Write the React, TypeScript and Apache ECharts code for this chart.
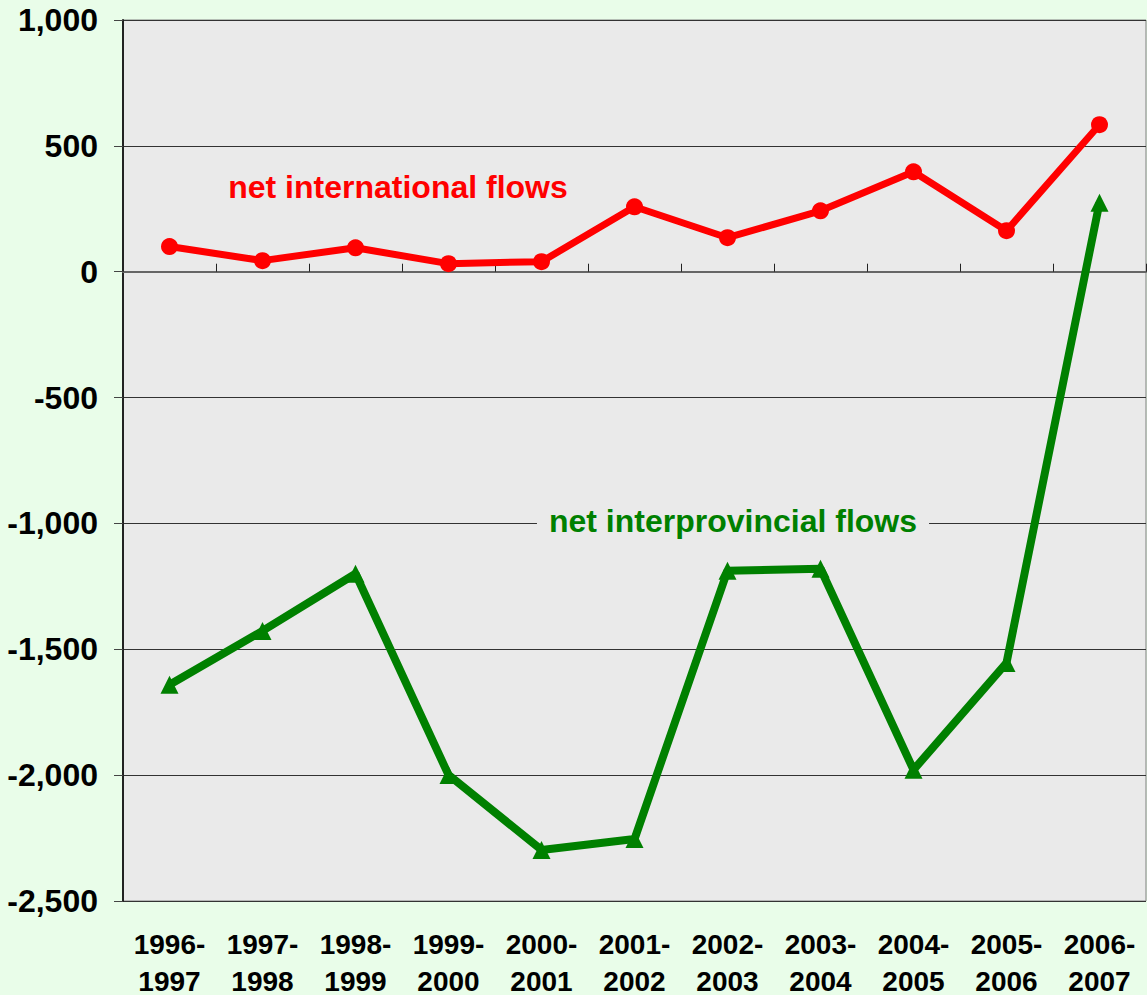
import React, { useEffect, useRef } from "react";
import * as echarts from "echarts";

const categories = [
  "1996-\n1997", "1997-\n1998", "1998-\n1999", "1999-\n2000", "2000-\n2001", "2001-\n2002",
  "2002-\n2003", "2003-\n2004", "2004-\n2005", "2005-\n2006", "2006-\n2007",
];
const internationalFlows = [100, 44, 95, 32, 40, 258, 135, 242, 397, 163, 584];
const interprovincialFlows = [-1641, -1427, -1200, -1999, -2297, -2254, -1188, -1180, -1979, -1554, 274];
const yMin = -2500;
const yMax = 1000;
const yStep = 500;

const FONT = "'Liberation Sans', Arial, sans-serif";

export default function App() {
  const ref = useRef<HTMLDivElement>(null);
  useEffect(() => {
    if (!ref.current) return;
    const chart = echarts.init(ref.current, undefined, { renderer: "svg" });
    chart.setOption({
      animation: false,
      backgroundColor: "#E9FDE9",
      grid: {
        left: 123,
        right: 1,
        top: 20,
        bottom: 94,
        outerBoundsMode: "none",
        containLabel: false,
        show: true,
        backgroundColor: "#EAEAEA",
        borderColor: "#808080",
        borderWidth: 1,
      },
      xAxis: [
        {
          type: "category",
          data: categories,
          position: "bottom",
          axisLine: { show: false, onZero: false },
          axisTick: { show: false },
          axisLabel: {
            color: "#000",
            fontFamily: FONT,
            fontWeight: "bold",
            fontSize: 28,
            lineHeight: 37,
            margin: 25,
            interval: 0,
          },
        },
        {
          type: "category",
          data: categories,
          position: "bottom",
          axisLine: { show: true, onZero: true, lineStyle: { color: "#666", width: 2 } },
          axisTick: { show: true, inside: true, length: 8, lineStyle: { color: "#222", width: 1 } },
          axisLabel: { show: false },
        },
      ],
      yAxis: {
        type: "value",
        min: yMin,
        max: yMax,
        interval: yStep,
        axisLine: { show: true, lineStyle: { color: "#222", width: 2 } },
        axisTick: { show: true, length: 9, lineStyle: { color: "#444", width: 1 } },
        splitLine: { show: true, lineStyle: { color: "#333", width: 1 } },
        axisLabel: {
          color: "#000",
          fontFamily: FONT,
          fontWeight: "bold",
          fontSize: 32,
          margin: 25,
          formatter: (v: number) => v.toLocaleString("en-US"),
        },
      },
      series: [
        {
          name: "net international flows",
          type: "line",
          xAxisIndex: 0,
          data: internationalFlows,
          symbol: "circle",
          symbolSize: 17,
          itemStyle: { color: "#FF0000" },
          lineStyle: { color: "#FF0000", width: 7 },
          z: 3,
        },
        {
          name: "net interprovincial flows",
          type: "line",
          xAxisIndex: 0,
          data: interprovincialFlows,
          symbol: "triangle",
          symbolSize: 18,
          itemStyle: { color: "#008000" },
          lineStyle: { color: "#008000", width: 8 },
          z: 3,
        },
      ],
      graphic: [
        {
          type: "text",
          x: 398,
          y: 187,
          z: 10,
          style: {
            text: "net international flows",
            fill: "#FF0000",
            font: `bold 32px ${FONT}`,
            align: "center",
            verticalAlign: "middle",
          },
        },
        {
          type: "text",
          x: 733,
          y: 521,
          z: 10,
          style: {
            text: "net interprovincial flows",
            fill: "#008000",
            font: `bold 32px ${FONT}`,
            align: "center",
            verticalAlign: "middle",
            backgroundColor: "#EAEAEA",
            padding: [4, 12, 4, 12],
          },
        },
      ],
    });
    return () => chart.dispose();
  }, []);
  return (
    <div
      ref={ref}
      style={{ position: "absolute", left: 0, top: 0, width: 1147, height: 995 }}
    />
  );
}
